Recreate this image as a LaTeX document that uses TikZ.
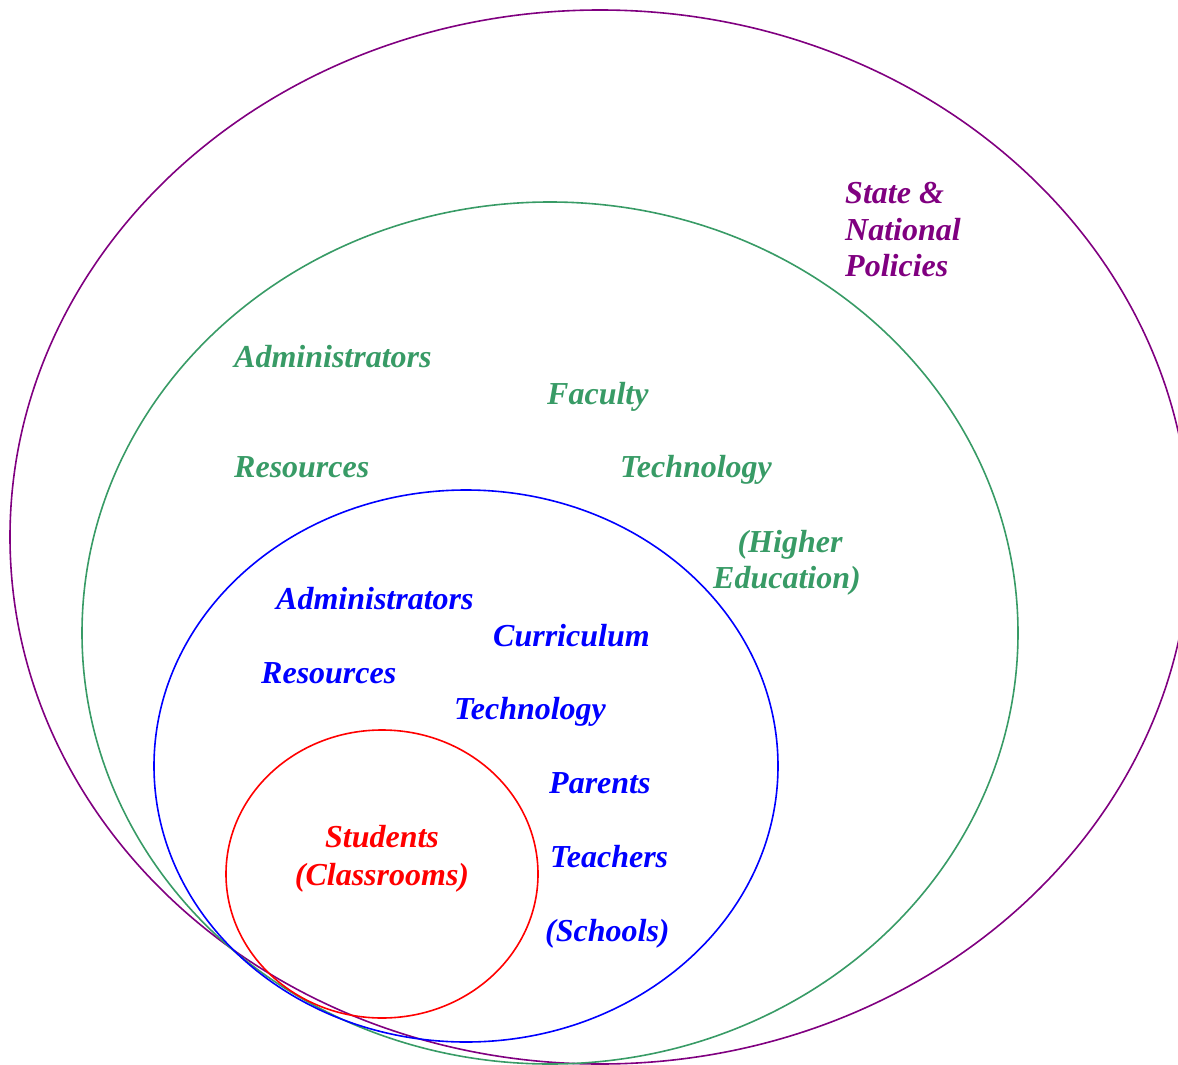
\documentclass[tikz,border=0pt]{standalone}
\usepackage{fontspec}
\setmainfont{Liberation Serif}
\definecolor{cpurple}{RGB}{128,0,128}
\definecolor{cgreen}{RGB}{56,155,102}
\definecolor{cblue}{RGB}{0,0,255}
\definecolor{cred}{RGB}{255,0,0}
\begin{document}
\begin{tikzpicture}[x=1pt,y=-1pt,
  ring/.style={line width=1.6pt},
  lbl/.style={font=\fontsize{32}{37}\selectfont\bfseries\itshape, inner sep=0pt},
  lw/.style={lbl, anchor=base west},
  lc/.style={lbl, anchor=base}]
\useasboundingbox (0,0) rectangle (1178,1065);
% rings
\draw[ring, cpurple] (600,537) ellipse [x radius=590, y radius=527];
\draw[ring, cgreen] (550,633) ellipse [x radius=468, y radius=431];
\draw[ring, cblue] (466,766) ellipse [x radius=312, y radius=276];
\draw[ring, cred] (382,874) ellipse [x radius=156, y radius=144];
% state level
\node[lw, cpurple] (s1) at (845,203) {State \&};
\node[lw, cpurple] (s2) at (845,240) {National};
\node[lw, cpurple] (s3) at (845,276) {Policies};
% higher education
\node[lw, cgreen] (g1) at (234,367) {Administrators};
\node[lw, cgreen] (g2) at (547,404) {Faculty};
\node[lw, cgreen] (g3) at (234,477) {Resources};
\node[lw, cgreen] (g4) at (620,477) {Technology};
\node[lc, cgreen] (g5) at (790,552) {(Higher};
\node[lc, cgreen] (g6) at (787,588) {Education)};
% schools
\node[lw, cblue] (b1) at (276,609) {Administrators};
\node[lw, cblue] (b2) at (493,646) {Curriculum};
\node[lw, cblue] (b3) at (261,683) {Resources};
\node[lw, cblue] (b4) at (454,719) {Technology};
\node[lw, cblue] (b5) at (549,793) {Parents};
\node[lw, cblue] (b6) at (550,867) {Teachers};
\node[lw, cblue] (b7) at (545,941) {(Schools)};
% classrooms
\node[lc, cred] (r1) at (382,847) {Students};
\node[lc, cred] (r2) at (382,885) {(Classrooms)};
\end{tikzpicture}
\end{document}
